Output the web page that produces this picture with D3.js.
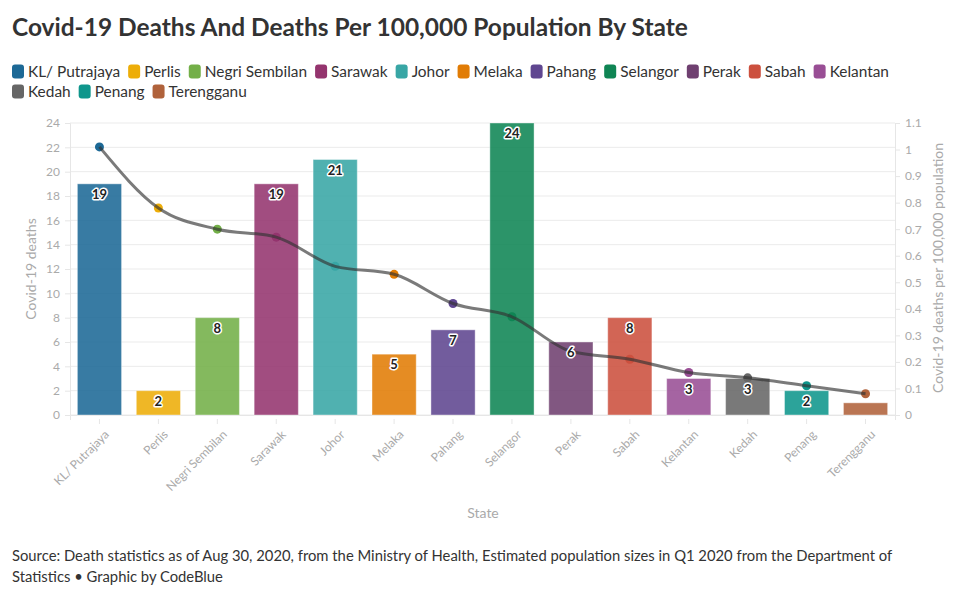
<!DOCTYPE html>
<html><head><meta charset="utf-8">
<script src="https://cdn.jsdelivr.net/npm/d3@7"></script>
<style>body{margin:0;background:#fff;font-family:Lato,"Open Sans",sans-serif;}</style>
</head><body><svg id="c" width="965" height="600"></svg>
<script>
const states = ["KL/ Putrajaya","Perlis","Negri Sembilan","Sarawak","Johor","Melaka","Pahang","Selangor","Perak","Sabah","Kelantan","Kedah","Penang","Terengganu"];
const deaths = [19,2,8,19,21,5,7,24,6,8,3,3,2,1];
const per100k = [1.01,0.78,0.70,0.67,0.56,0.53,0.42,0.37,0.24,0.21,0.16,0.14,0.11,0.08];
const colors = ["#1D6996","#EDAD08","#73AF48","#94346E","#38A6A5","#E17C05","#5F4690","#0F8554","#6F4070","#CC503E","#994E95","#666666","#0F968C","#B0623B"];
const leftTicks = [0,2,4,6,8,10,12,14,16,18,20,22,24];
const rightTicks = [0,0.1,0.2,0.3,0.4,0.5,0.6,0.7,0.8,0.9,1,1.1];

const svg = d3.select("#c");
const L = 70, R = 895, T = 123, B = 415;
const x = d3.scaleBand().domain(states).range([L, R]).paddingInner(0.25).paddingOuter(0.125);
const y = d3.scaleLinear().domain([0,24]).range([B, T]);
const y2 = d3.scaleLinear().domain([0,1.1]).range([B, T]);
const col = d3.scaleOrdinal().domain(states).range(colors);

function fit(sel, w){ const n=sel.node(); let fs=parseFloat(sel.attr("font-size")); const cw=n.getComputedTextLength(); sel.attr("font-size", fs*w/cw); return fs*w/cw; }

// title
fit(svg.append("text").attr("x",12).attr("y",36).attr("font-size",24).attr("font-weight",700).attr("fill","#333")
  .text("Covid-19 Deaths And Deaths Per 100,000 Population By State"), 676);

// legend: row1 first 11 items, row2 rest; fit font so row 1 spans 12..889
const rowBreak = 11, swW = 12, swGap = 4, itemGap = 8;
const lg = svg.append("g");
const items = states.map((s,i)=>{
  const t = lg.append("text").attr("font-size",14).attr("fill","#333").text(s);
  return {s, t, w: t.node().getComputedTextLength()};
});
const row1W = d3.sum(items.slice(0,rowBreak), d=>d.w);
const fixed = rowBreak*(swW+swGap) + (rowBreak-1)*itemGap;
const k = (877 - fixed)/row1W;
let cx = 12, row = 0;
items.forEach((it,i)=>{
  if(i===rowBreak){ cx = 12; row = 1; }
  const cy = 71.5 + row*20;
  lg.append("rect").attr("x",cx).attr("y",cy-7).attr("width",swW).attr("height",14).attr("rx",3).attr("fill",col(it.s));
  it.t.attr("font-size",14*k).attr("x",cx+swW+swGap).attr("y",cy+5);
  cx += swW + swGap + it.w*k + itemGap;
});

// grid
svg.append("g").selectAll("line").data(leftTicks).join("line")
  .attr("x1",L).attr("x2",R).attr("y1",d=>y(d)).attr("y2",d=>y(d)).attr("stroke","#ebebeb");

// left axis
const ga = svg.append("g").attr("transform",`translate(${L},0)`).call(d3.axisLeft(y).tickValues(leftTicks).tickSize(5).tickPadding(5));
ga.select(".domain").attr("stroke","#e6e6e6");
ga.selectAll(".tick line").attr("stroke","#e6e6e6");
ga.selectAll("text").attr("fill","#aaa").attr("font-size",12).attr("font-family","Lato,sans-serif");

const gb = svg.append("g").attr("transform",`translate(${R},0)`).call(d3.axisRight(y2).tickValues(rightTicks).tickSize(5).tickPadding(5).tickFormat(d3.format("~g")));
gb.select(".domain").attr("stroke","#e6e6e6");
gb.selectAll(".tick line").attr("stroke","#e6e6e6");
gb.selectAll("text").attr("fill","#aaa").attr("font-size",12).attr("font-family","Lato,sans-serif");

// x axis
const gx = svg.append("g").attr("transform",`translate(0,${B})`).call(d3.axisBottom(x).tickSize(5).tickPadding(4));
gx.select(".domain").attr("stroke","#e6e6e6");
gx.selectAll(".tick line").attr("stroke","#e6e6e6").attr("transform","translate(0,4)");
gx.selectAll("text").attr("fill","#aaa").attr("font-size",12).attr("font-family","Lato,sans-serif")
  .attr("text-anchor","end").attr("transform","translate(1,11) rotate(-45)").attr("dy","0.35em");

// axis titles
svg.append("text").attr("transform",`translate(36,${(T+B)/2}) rotate(-90)`).attr("text-anchor","middle")
  .attr("font-size",14).attr("fill","#aaa").text("Covid-19 deaths");
svg.append("text").attr("transform",`translate(943,${(T+B)/2-1}) rotate(-90)`).attr("text-anchor","middle")
  .attr("font-size",14).attr("fill","#aaa").text("Covid-19 deaths per 100,000 population");
svg.append("text").attr("x",483).attr("y",518).attr("text-anchor","middle").attr("font-size",14).attr("fill","#aaa").text("State");

// bars
svg.append("g").selectAll("rect").data(states).join("rect")
  .attr("x",d=>x(d)).attr("width",x.bandwidth())
  .attr("y",(d,i)=>y(deaths[i])).attr("height",(d,i)=>B-y(deaths[i]))
  .attr("fill",d=>col(d)).attr("fill-opacity",0.88).attr("stroke","#fff").attr("stroke-opacity",0.4);

// points
svg.append("g").selectAll("circle").data(states).join("circle")
  .attr("cx",d=>x(d)+x.bandwidth()/2).attr("cy",(d,i)=>y2(per100k[i])).attr("r",4.5).attr("fill",d=>col(d));

// line
const line = d3.line().x(d=>x(d)+x.bandwidth()/2).y((d,i)=>y2(per100k[i])).curve(d3.curveMonotoneX);
svg.append("path").datum(states).attr("d",line).attr("fill","none").attr("stroke","#333").attr("stroke-opacity",0.65).attr("stroke-width",3);

// bar labels
svg.append("g").selectAll("text").data(states.filter((d,i)=>deaths[i]>1)).join("text")
  .attr("x",d=>x(d)+x.bandwidth()/2).attr("y",d=>y(deaths[states.indexOf(d)])+15)
  .attr("text-anchor","middle").attr("font-size",13).attr("font-weight",700).attr("fill","#222")
  .attr("stroke","#fff").attr("stroke-width",3).attr("stroke-linejoin","round").attr("paint-order","stroke")
  .text(d=>deaths[states.indexOf(d)]);

// source
const sfs = fit(svg.append("text").attr("x",12).attr("y",561).attr("font-size",14).attr("fill","#333")
  .text("Source: Death statistics as of Aug 30, 2020, from the Ministry of Health, Estimated population sizes in Q1 2020 from the Department of"), 881);
svg.append("text").attr("x",12).attr("y",582).attr("font-size",sfs).attr("fill","#333").text("Statistics \u2022 Graphic by CodeBlue");
</script></body></html>
